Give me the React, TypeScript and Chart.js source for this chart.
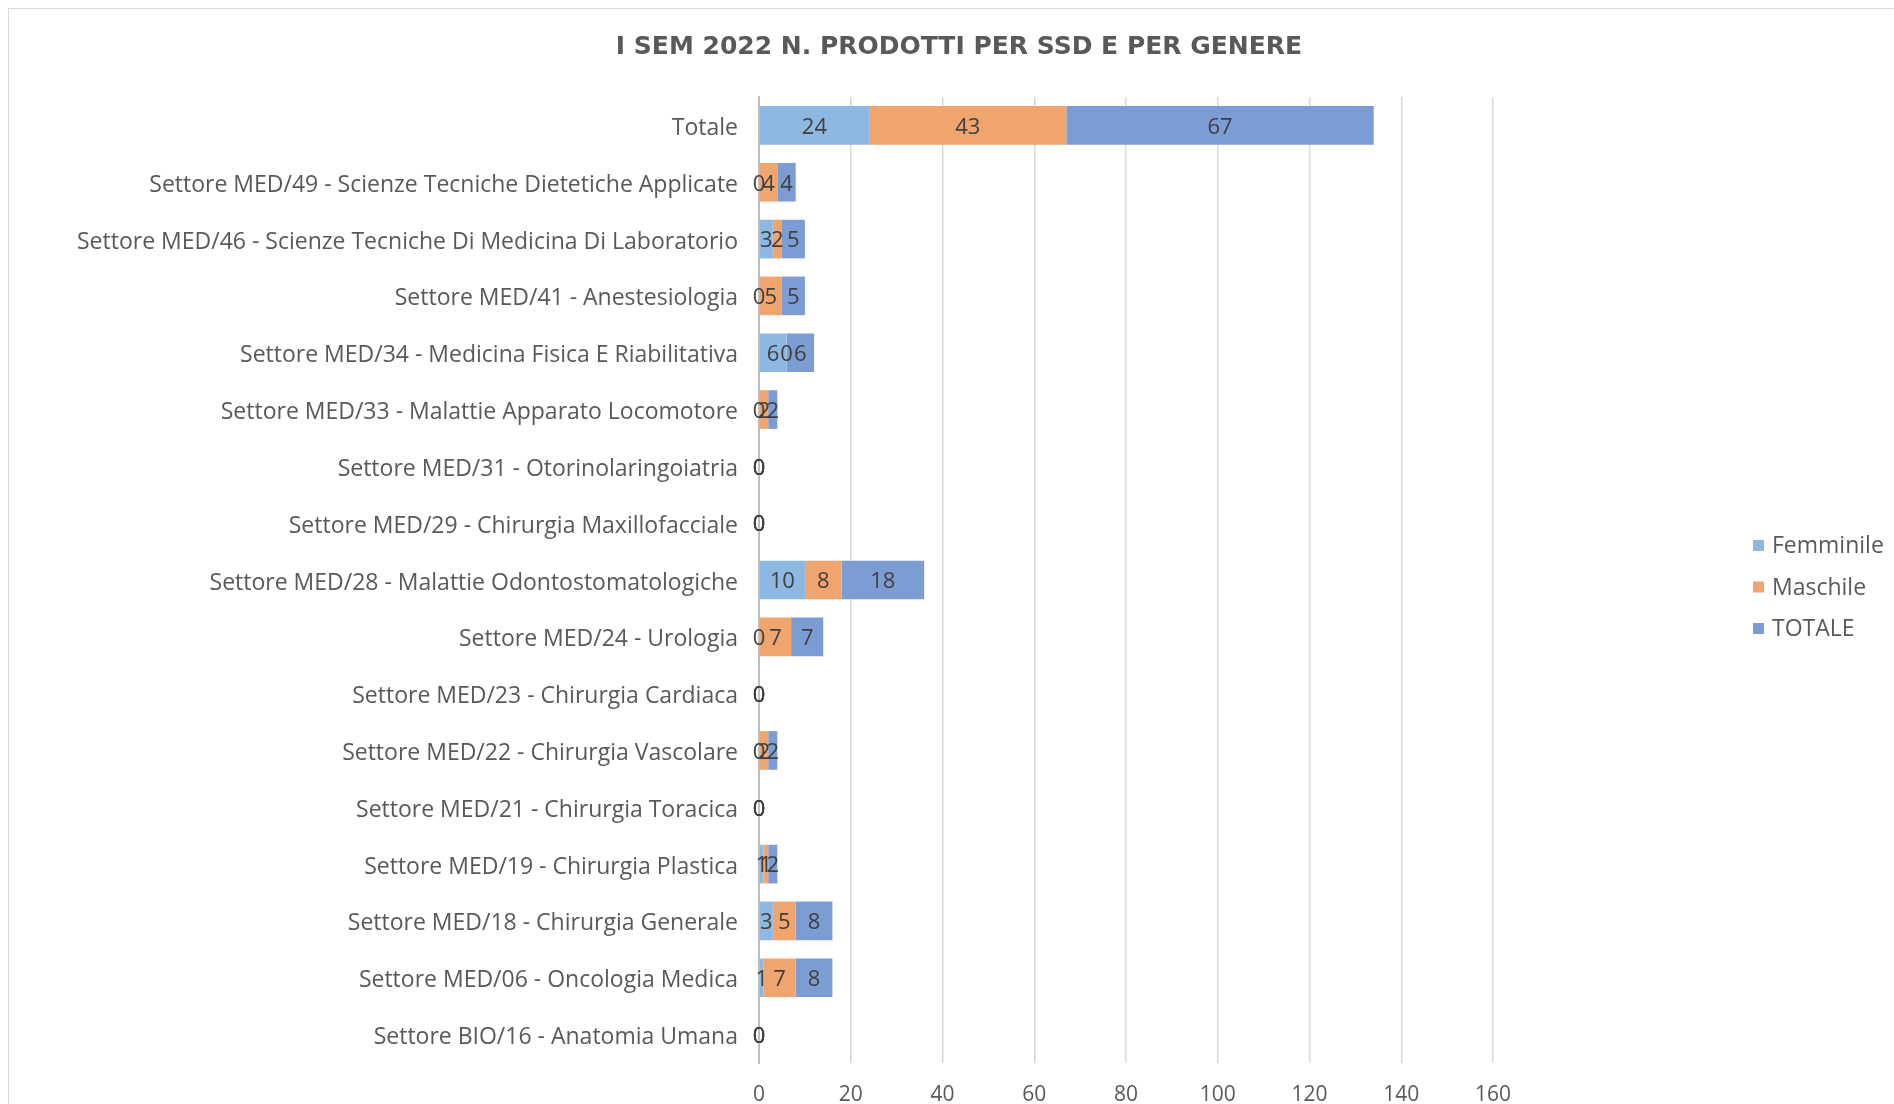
import React, { useEffect, useRef } from "react";
import { Chart, registerables } from "chart.js";

Chart.register(...registerables);

const categories = [
  "Totale",
  "Settore MED/49 - Scienze Tecniche Dietetiche Applicate",
  "Settore MED/46 - Scienze Tecniche Di Medicina Di Laboratorio",
  "Settore MED/41 - Anestesiologia",
  "Settore MED/34 - Medicina Fisica E Riabilitativa",
  "Settore MED/33 - Malattie Apparato Locomotore",
  "Settore MED/31 - Otorinolaringoiatria",
  "Settore MED/29 - Chirurgia Maxillofacciale",
  "Settore MED/28 - Malattie Odontostomatologiche",
  "Settore MED/24 - Urologia",
  "Settore MED/23 - Chirurgia Cardiaca",
  "Settore MED/22 - Chirurgia Vascolare",
  "Settore MED/21 - Chirurgia Toracica",
  "Settore MED/19 - Chirurgia Plastica",
  "Settore MED/18 - Chirurgia Generale",
  "Settore MED/06 - Oncologia Medica",
  "Settore BIO/16 - Anatomia Umana",
];

const femminile = [24, 0, 3, 0, 6, 0, 0, 0, 10, 0, 0, 0, 0, 1, 3, 1, 0];
const maschile = [43, 4, 2, 5, 0, 2, 0, 0, 8, 7, 0, 2, 0, 1, 5, 7, 0];
const totale = [67, 4, 5, 5, 6, 2, 0, 0, 18, 7, 0, 2, 0, 2, 8, 8, 0];

const seriesNames = ["Femminile", "Maschile", "TOTALE"];
const seriesColors = ["#8CB8E1", "#F0A56E", "#7C9DD4"];

const title = "I SEM 2022 N. PRODOTTI PER SSD E PER GENERE";
const xMin = 0;
const xMax = 160;
const xStep = 20;

const FONT = "'Open Sans', sans-serif";

const titlePlugin = {
  id: "centerTitle",
  afterDraw(chart: any) {
    const ctx = chart.ctx;
    ctx.save();
    ctx.font = `bold 25px 'DejaVu Sans', sans-serif`;
    ctx.fillStyle = "#595959";
    ctx.textAlign = "center";
    ctx.textBaseline = "middle";
    ctx.fillText(title, chart.width / 2, 38);
    ctx.restore();
  },
};

const valueLabels = {
  id: "valueLabels",
  afterDatasetsDraw(chart: any) {
    const ctx = chart.ctx;
    ctx.save();
    ctx.font = `22px ${FONT}`;
    ctx.fillStyle = "#404040";
    ctx.textAlign = "center";
    ctx.textBaseline = "middle";
    chart.data.datasets.forEach((ds: any, i: number) => {
      const meta = chart.getDatasetMeta(i);
      meta.data.forEach((bar: any, j: number) => {
        const p = bar.getProps(["x", "base", "y"], true);
        ctx.fillText(String(ds.data[j]), (p.x + p.base) / 2, p.y + 2);
      });
    });
    ctx.restore();
  },
};

const sideLegend = {
  id: "sideLegend",
  afterDraw(chart: any) {
    const ctx = chart.ctx;
    const area = chart.chartArea;
    const cx = 1744;
    const mid = (area.top + area.bottom) / 2 + 7;
    const gap = 41.5;
    ctx.save();
    ctx.font = `23px ${FONT}`;
    ctx.textAlign = "left";
    ctx.textBaseline = "middle";
    chart.data.datasets.forEach((ds: any, i: number) => {
      const y = mid + (i - 1) * gap;
      ctx.fillStyle = ds.backgroundColor;
      ctx.fillRect(cx, y - 5.5, 11, 11);
      ctx.fillStyle = "#595959";
      ctx.fillText(ds.label, cx + 19, y + 1);
    });
    ctx.restore();
  },
};

export default function App() {
  const ref = useRef<HTMLCanvasElement | null>(null);

  useEffect(() => {
    if (!ref.current) return;
    const chart = new Chart(ref.current, {
      type: "bar",
      data: {
        labels: categories,
        datasets: [femminile, maschile, totale].map((d, i) => ({
          label: seriesNames[i],
          data: d,
          backgroundColor: seriesColors[i],
          borderWidth: 0,
          barPercentage: 1,
          categoryPercentage: 0.68,
        })),
      },
      options: {
        indexAxis: "y",
        responsive: false,
        animation: false,
        devicePixelRatio: 1,
        layout: { padding: { top: 88, right: 416, bottom: 0, left: 0 } },
        plugins: {
          legend: { display: false },
          tooltip: { enabled: false },
          title: { display: false },
        },
        scales: {
          x: {
            stacked: true,
            min: xMin,
            max: xMax,
            ticks: {
              stepSize: xStep,
              color: "#595959",
              font: { family: FONT, size: 21 },
              padding: 19,
            },
            grid: { color: "#d9d9d9", lineWidth: 1.5, drawTicks: false },
            border: { display: false },
            afterFit: (scale: any) => {
              scale.height = 41;
            },
          },
          y: {
            stacked: true,
            ticks: {
              color: "#595959",
              font: { family: FONT, size: 23 },
              padding: 21,
              labelOffset: 3,
              autoSkip: false,
            },
            grid: { display: false, drawTicks: false },
            border: { display: true, color: "#bfbfbf", width: 2 },
            afterFit: (scale: any) => {
              scale.width = 750;
            },
          },
        },
      },
      plugins: [valueLabels, sideLegend, titlePlugin],
    });
    return () => chart.destroy();
  }, []);

  return (
    <div
      style={{
        position: "fixed",
        left: 8,
        top: 8,
        width: 1886,
        height: 1096,
        overflow: "hidden",
        borderLeft: "1px solid #d9d9d9",
        borderTop: "1px solid #d9d9d9",
        background: "#fff",
      }}
    >
      <canvas ref={ref} width={1900} height={1095} style={{ display: "block" }} />
    </div>
  );
}
